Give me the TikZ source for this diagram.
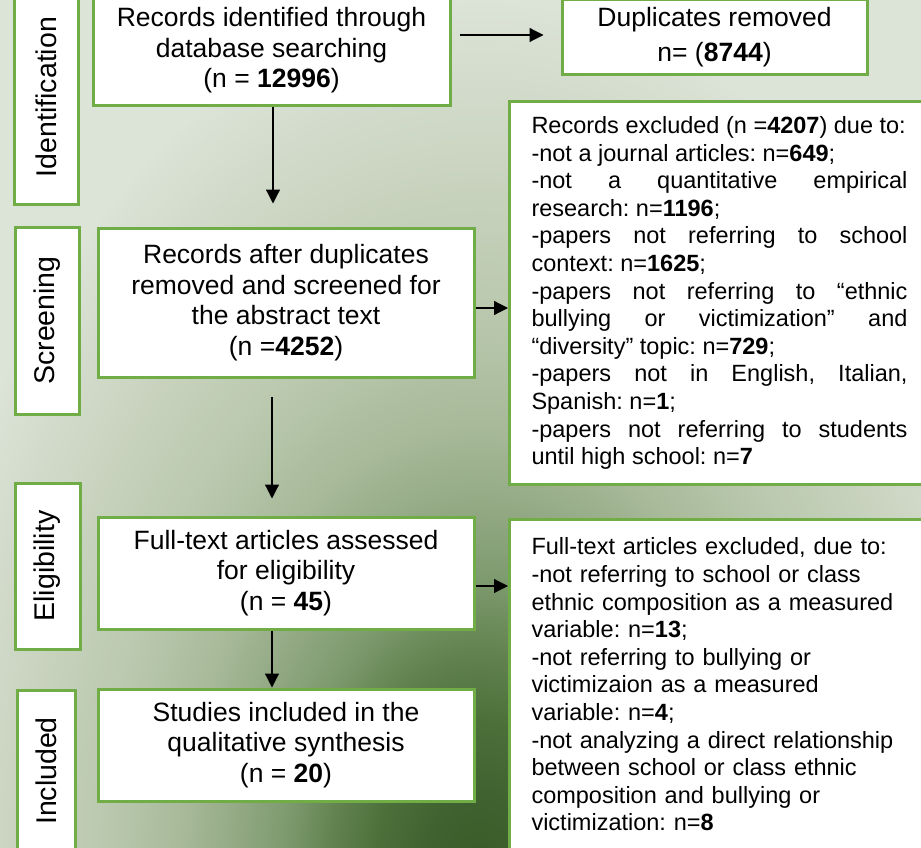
\documentclass[tikz,border=0pt]{standalone}
\usepackage{fontspec}
\usepackage{graphicx}
\setmainfont{Liberation Sans}
\usetikzlibrary{arrows.meta,calc}
\definecolor{bgl}{HTML}{DCE3D7}
\definecolor{bx}{HTML}{70AD47}
\definecolor{g0}{HTML}{375A26}
\definecolor{g1}{HTML}{3F6230}
\definecolor{g2}{HTML}{4C6F3A}
\definecolor{g3}{HTML}{62834F}
\definecolor{g4}{HTML}{7D9A6E}
\definecolor{g5}{HTML}{92A883}
\definecolor{g6}{HTML}{A8BA9A}
\definecolor{g7}{HTML}{B9C8AD}
\definecolor{g8}{HTML}{C7D2BD}
\pgfdeclareradialshading{bgshade}{\pgfpoint{0bp}{0bp}}{color(0bp)=(g0); color(2.5bp)=(g1); color(4.5bp)=(g2); color(6.5bp)=(g3); color(8.5bp)=(g4); color(10.5bp)=(g5); color(13bp)=(g6); color(16bp)=(g7); color(19.5bp)=(g8); color(25bp)=(bgl); color(50bp)=(bgl)}
\hyphenpenalty=10000
\exhyphenpenalty=10000
\tolerance=9999
\hbadness=10000
\frenchspacing
\begin{document}
\frenchspacing
\begin{tikzpicture}[x=1pt,y=-1pt,
  box/.style={draw=bx, line width=3pt, fill=white, inner sep=0pt, align=center,
    font=\fontsize{26.5}{30.5}\selectfont},
  lab/.style={draw=bx, line width=3pt, fill=white, inner sep=0pt,
    font=\fontsize{28.5}{34}\selectfont},
  excl/.style={draw=bx, line width=3pt, fill=white, anchor=north west,
    inner xsep=22pt, inner ysep=0pt, text width=376pt,
    font=\fontsize{23.5}{27.6}\selectfont},
  arr/.style={line width=1.2pt, -{Triangle[length=14pt,width=14pt]}}
]
\useasboundingbox (0,0) rectangle (921,848);
\clip (0,0) rectangle (921,848);
\fill[bgl] (0,0) rectangle (921,848);
\shade[shading=bgshade] (480,880) ellipse [x radius=580pt, y radius=880pt];

% stage labels
\node[lab, minimum width=64pt, minimum height=214pt] (lid) at (46,97) {\rotatebox{90}{Identification}};
\node[lab, minimum width=64pt, minimum height=187pt] (lsc) at (47,320.5) {\rotatebox{90}{Screening}};
\node[lab, minimum width=65pt, minimum height=166pt] (lel) at (47.5,566) {\rotatebox{90}{Eligibility}};
\node[lab, minimum width=58pt, minimum height=162pt] (lin) at (46,771) {\rotatebox{90}{Included}};

% main boxes
\node[box, minimum width=357pt, minimum height=111pt] (b1) at (271.5,50.5)
  {Records identified through\\ database searching\\ (n = \textbf{12996})};
\node[box, minimum width=305pt, minimum height=75pt] (dup) at (714.5,37.5)
  {Duplicates removed\\[4.5pt] n= (\textbf{8744})};
\node[box, minimum width=376pt, minimum height=149pt] (b2) at (286,302.5)
  {Records after duplicates\\ removed and screened for\\ the abstract text\\ (n =\textbf{4252})};
\node[box, minimum width=376pt, minimum height=112pt] (b3) at (286,573)
  {Full-text articles assessed\\ for eligibility\\ (n = \textbf{45})};
\node[box, minimum width=376pt, minimum height=112pt] (b4) at (286,745)
  {Studies included in the\\ qualitative synthesis\\ (n = \textbf{20})};

% exclusion boxes
\node[excl, align=justify, minimum height=383pt] (ex1) at (508,100)
  {Records excluded (n =\textbf{4207}) due to:\par
   -not a journal articles: n=\textbf{649};\par
   -not a quantitative empirical\linebreak research: n=\textbf{1196};\par
   -papers not referring to school\linebreak context: n=\textbf{1625};\par
   -papers not referring to “ethnic\linebreak bullying or victimization” and\linebreak “diversity” topic: n=\textbf{729};\par
   -papers not in English, Italian,\linebreak Spanish: n=\textbf{1};\par
   -papers not referring to students\linebreak until high school: n=\textbf{7}};
\node[excl, align=left, minimum height=330pt] (ex2) at (508,518)
  {Full-text articles excluded, due to:\\
   -not referring to school or class\\
   ethnic composition as a measured\\
   variable: n=\textbf{13};\\
   -not referring to bullying or\\
   victimizaion as a measured\\
   variable: n=\textbf{4};\\
   -not analyzing a direct relationship\\
   between school or class ethnic\\
   composition and bullying or\\
   victimization: n=\textbf{8}};

% connectors
\coordinate (ax1) at (273,0);
\coordinate (ax2) at (272,0);
\coordinate (ay1) at (0,35);
\coordinate (ay2) at (0,308);
\coordinate (ay3) at (0,586);
\draw[arr, shorten >=23pt] (b1.south -| ax1) -- (b2.north -| ax1);
\draw[arr, shorten <=18pt, shorten >=17pt] (b2.south -| ax2) -- (b3.north -| ax2);
\draw[arr] (b3.south -| ax2) -- (b4.north -| ax2);
\draw[arr, shorten <=8pt, shorten >=17pt] (b1.east |- ay1) -- (dup.west |- ay1);
\draw[arr] (b2.east |- ay2) -- (ex1.west |- ay2);
\draw[arr] (b3.east |- ay3) -- (ex2.west |- ay3);
\end{tikzpicture}
\end{document}
